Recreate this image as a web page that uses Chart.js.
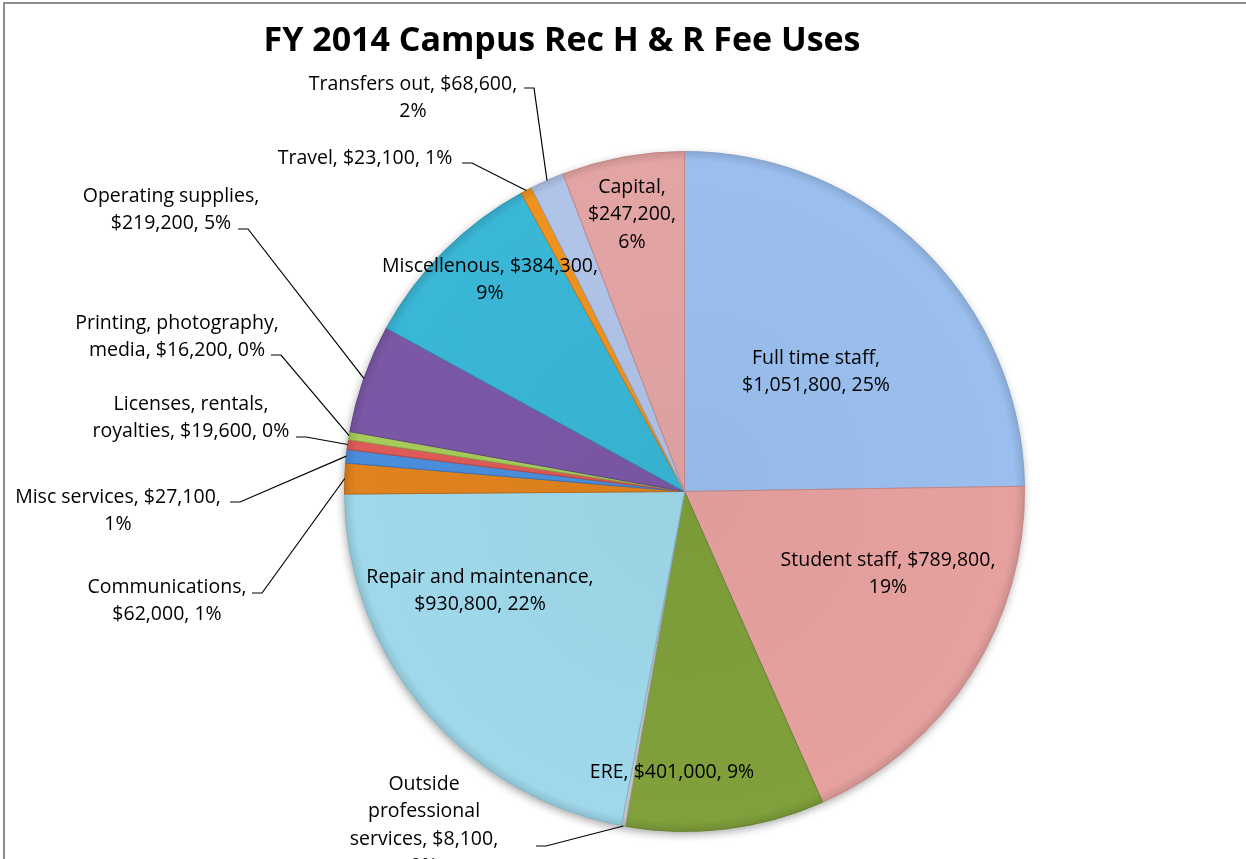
<!DOCTYPE html>
<html>
<head>
<meta charset="utf-8">
<title>FY 2014 Campus Rec H &amp; R Fee Uses</title>
<script src="https://cdn.jsdelivr.net/npm/chart.js@4.4.1/dist/chart.umd.min.js"></script>
<style>
  html, body { margin: 0; padding: 0; background: #fff; }
  #wrap { width: 1246px; height: 859px; }
</style>
</head>
<body>
<div id="wrap"><canvas id="feeChart" width="1246" height="859"></canvas></div>
<script>
// data
const chartTitle = 'FY 2014 Campus Rec H & R Fee Uses';
const categories = ['Full time staff', 'Student staff', 'ERE', 'Outside professional services',
  'Repair and maintenance', 'Communications', 'Misc services', 'Licenses, rentals, royalties',
  'Printing, photography, media', 'Operating supplies', 'Miscellenous', 'Travel',
  'Transfers out', 'Capital'];
const amounts = [1051800, 789800, 401000, 8100, 930800, 62000, 27100, 19600, 16200,
  219200, 384300, 23100, 68600, 247200];

// colours (Excel-ish palette)
const sliceColors = ['#9abfee', '#e6a19f', '#7fa03b', '#c4c4c4', '#9fd8ea', '#e0821e',
  '#4a8edb', '#dd5a57', '#a6cb5a', '#7b58a6', '#3ab6d6', '#f0921e', '#b0c4e8', '#e3a4a4'];
const sliceBorders = ['#7f9fcc', '#c48684', '#66822e', '#9a9a9a', '#80b7c8', '#b86a16',
  '#3a72b5', '#b54744', '#86a846', '#624587', '#2c94b0', '#c87616', '#90a3c6', '#c28686'];

// label placement: words per line, centre of first line, start of leader stub
const labelLayout = [
  { lines: [3, 2], x: 816, y: 358 },
  { lines: [3, 1], x: 888, y: 560 },
  { lines: [3], x: 672, y: 772 },
  { lines: [1, 1, 2, 1], x: 424, y: 784, stub: [536, 846] },
  { lines: [3, 2], x: 480, y: 577 },
  { lines: [1, 2], x: 167, y: 587, stub: [252, 593] },
  { lines: [3, 1], x: 118, y: 497, stub: [230, 502] },
  { lines: [2, 3], x: 191, y: 404, stub: [296, 437] },
  { lines: [2, 3], x: 177, y: 323, stub: [271, 355] },
  { lines: [2, 2], x: 171, y: 196, stub: [238, 229] },
  { lines: [2, 1], x: 490, y: 266 },
  { lines: [3], x: 365, y: 158, stub: [462, 163] },
  { lines: [3, 1], x: 413, y: 84, stub: [524, 88] },
  { lines: [1, 1, 1], x: 632, y: 187 }
];

const FONT = '"Open Sans", "Noto Sans", sans-serif';
const LINE_H = 27.5;
const total = amounts.reduce((a, b) => a + b, 0);

function labelLines(i) {
  let pct = Math.round(amounts[i] / total * 100);
  let words = (categories[i] + ', $' + amounts[i].toLocaleString('en-US') + ', ' + pct + '%').split(' ');
  let out = [];
  let k = 0;
  labelLayout[i].lines.forEach((n) => {
    out.push(words.slice(k, k + n).join(' '));
    k += n;
  });
  return out;
}

// 色を少し暗くする
function shade(hex, f) {
  let n = parseInt(hex.slice(1), 16);
  let r = Math.round(((n >> 16) & 255) * f);
  let g = Math.round(((n >> 8) & 255) * f);
  let b = Math.round((n & 255) * f);
  return 'rgb(' + r + ',' + g + ',' + b + ')';
}

// bevel-like radial fill
function sliceFill(c) {
  let base = sliceColors[c.dataIndex];
  let area = c.chart.chartArea;
  if (!area) return base;
  let cx = (area.left + area.right) / 2;
  let cy = (area.top + area.bottom) / 2;
  let r = Math.min(area.right - area.left, area.bottom - area.top) / 2;
  let g = c.chart.ctx.createRadialGradient(cx, cy, 0, cx, cy, r);
  g.addColorStop(0, shade(base, 0.97));
  g.addColorStop(0.9, base);
  g.addColorStop(0.97, base);
  g.addColorStop(1, shade(base, 0.88));
  return g;
}

const piePlugin = {
  id: 'pieDecor',
  beforeDraw(chart) {
    let ctx = chart.ctx;
    ctx.save();
    ctx.fillStyle = '#fff';
    ctx.fillRect(0, 0, chart.width, chart.height);
    // chart frame
    ctx.strokeStyle = '#8e8e8e';
    ctx.lineWidth = 2;
    ctx.strokeRect(4, 3, chart.width + 20, chart.height + 20);
    // title
    ctx.fillStyle = '#000';
    ctx.font = 'bold 34px ' + FONT;
    ctx.textAlign = 'center';
    ctx.textBaseline = 'middle';
    ctx.fillText(chartTitle, 562, 41);
    ctx.restore();
  },
  beforeDatasetsDraw(chart) {
    // soft drop shadow under the pie
    let arc = chart.getDatasetMeta(0).data[0];
    let p = arc.getProps(['x', 'y', 'outerRadius'], true);
    let ctx = chart.ctx;
    ctx.save();
    ctx.shadowColor = 'rgba(0,0,0,0.35)';
    ctx.shadowBlur = 8;
    ctx.shadowOffsetX = -1;
    ctx.shadowOffsetY = 3;
    ctx.fillStyle = '#fff';
    ctx.beginPath();
    ctx.arc(p.x, p.y, p.outerRadius, 0, Math.PI * 2);
    ctx.fill();
    ctx.restore();
  },
  afterDatasetsDraw(chart) {
    let ctx = chart.ctx;
    let arcs = chart.getDatasetMeta(0).data;
    ctx.save();
    ctx.font = '19.5px ' + FONT;
    ctx.fillStyle = '#000';
    ctx.textAlign = 'center';
    ctx.textBaseline = 'middle';
    arcs.forEach((arc, i) => {
      let lay = labelLayout[i];
      let lines = labelLines(i);
      lines.forEach((t, j) => {
        ctx.fillText(t, lay.x, lay.y + j * LINE_H);
      });
      if (lay.stub) {
        // leader line to the middle of the slice's outer edge
        let p = arc.getProps(['x', 'y', 'startAngle', 'endAngle', 'outerRadius'], true);
        let mid = (p.startAngle + p.endAngle) / 2;
        let ex = p.x + Math.cos(mid) * p.outerRadius;
        let ey = p.y + Math.sin(mid) * p.outerRadius;
        ctx.strokeStyle = '#000';
        ctx.lineWidth = 1.2;
        ctx.beginPath();
        ctx.moveTo(lay.stub[0], lay.stub[1]);
        ctx.lineTo(lay.stub[0] + 10, lay.stub[1]);
        ctx.lineTo(ex, ey);
        ctx.stroke();
      }
    });
    ctx.restore();
  }
};

let ctx = document.getElementById('feeChart');
let feeChart = new Chart(ctx, {
  type: 'pie',
  data: {
    labels: categories,
    datasets: [{
      data: amounts,
      backgroundColor: sliceFill,
      borderColor: sliceBorders,
      borderWidth: 1
    }]
  },
  options: {
    responsive: false,
    animation: false,
    layout: {
      padding: { top: 151, bottom: 27, left: 344, right: 221 }
    },
    plugins: {
      legend: { display: false },
      tooltip: { enabled: false },
      title: { display: false }
    }
  },
  plugins: [piePlugin]
});
</script>
</body>
</html>
